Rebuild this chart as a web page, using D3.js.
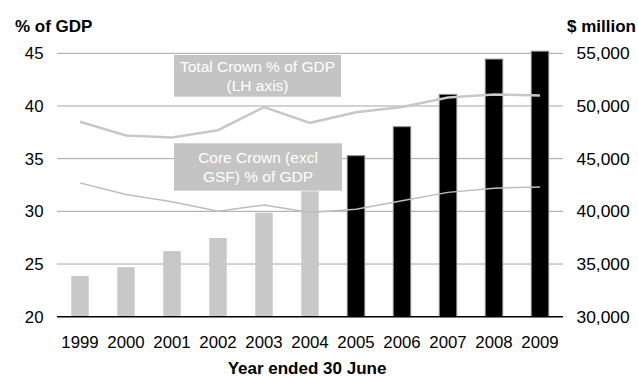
<!DOCTYPE html>
<html>
<head>
<meta charset="utf-8">
<script src="https://cdn.jsdelivr.net/npm/d3@7"></script>
<style>
  html, body { margin: 0; padding: 0; background: #fff; }
  svg { display: block; font-family: "Liberation Sans", Arial, sans-serif; }
</style>
</head>
<body>
<svg id="chart" width="638" height="377"></svg>
<script>
// Fiscal years (ended 30 June)
const years = ["1999","2000","2001","2002","2003","2004","2005","2006","2007","2008","2009"];
// Bars: $ million (right axis); first six are actuals, last five forecast
const spending = [33860, 34700, 36230, 37470, 39870, 41900, 45280, 48030, 51100, 54450, 55200];
const forecastFrom = "2005";
// Lines: % of GDP (left axis)
const totalCrownPct = [38.5, 37.2, 37.0, 37.7, 39.9, 38.4, 39.4, 39.9, 40.8, 41.1, 41.0];
const coreCrownPct = [32.7, 31.6, 30.9, 30.0, 30.6, 29.9, 30.2, 31.0, 31.8, 32.2, 32.3];
// Axis ticks
const leftTicks = [20, 25, 30, 35, 40, 45];
const rightTicks = [30000, 35000, 40000, 45000, 50000, 55000];

const svg = d3.select("#chart");
const m = { left: 57, right: 563, top: 53.3, bottom: 316.7 };
const tickSize = 16.8;

const x = d3.scaleBand().domain(years).range([m.left, m.right]).paddingInner(0.62).paddingOuter(0.31);
const yL = d3.scaleLinear().domain([20, 45]).range([m.bottom, m.top]);
const yR = d3.scaleLinear().domain([30000, 55000]).range([m.bottom, m.top]);

// Gridlines
svg.append("g")
  .selectAll("line").data(leftTicks.slice(1)).join("line")
  .attr("x1", m.left).attr("x2", m.right)
  .attr("y1", d => yL(d)).attr("y2", d => yL(d))
  .attr("stroke", "#a6a6a6").attr("stroke-width", 1);

// Bars
svg.append("g")
  .selectAll("rect").data(years).join("rect")
  .attr("x", d => x(d))
  .attr("width", x.bandwidth())
  .attr("y", (d, i) => yR(spending[i]))
  .attr("height", (d, i) => yR(30000) - yR(spending[i]))
  .attr("fill", d => d >= forecastFrom ? "#000" : "#c8c8c8")
  .attr("stroke", d => d >= forecastFrom ? "#8c8c8c" : "none")
  .attr("stroke-width", 1);

// Baseline
svg.append("line")
  .attr("x1", m.left).attr("x2", m.right)
  .attr("y1", m.bottom).attr("y2", m.bottom)
  .attr("stroke", "#000").attr("stroke-width", 1.5);

// Lines
const cx = d => x(d) + x.bandwidth() / 2;
const lineL = d3.line().x((d, i) => cx(years[i])).y(d => yL(d));
svg.append("path").datum(totalCrownPct)
  .attr("d", lineL).attr("fill", "none")
  .attr("stroke", "#c8c8c8").attr("stroke-width", 2.5);
svg.append("path").datum(coreCrownPct)
  .attr("d", lineL).attr("fill", "none")
  .attr("stroke", "#bdbdbd").attr("stroke-width", 1.5);

// Left axis labels
svg.append("g").selectAll("text").data(leftTicks).join("text")
  .attr("x", 43.5).attr("y", d => yL(d) + 6)
  .attr("text-anchor", "end").attr("font-size", tickSize).attr("fill", "#000")
  .text(d => d);

// Right axis labels
const fmt = d3.format(",");
svg.append("g").selectAll("text").data(rightTicks).join("text")
  .attr("x", 576.5).attr("y", d => yR(d) + 6)
  .attr("text-anchor", "start").attr("font-size", 17.4).attr("fill", "#000")
  .text(d => fmt(d));

// Category labels
svg.append("g").selectAll("text").data(years).join("text")
  .attr("x", d => cx(d)).attr("y", 348)
  .attr("text-anchor", "middle").attr("font-size", tickSize).attr("fill", "#000")
  .text(d => d);

// Axis titles
svg.append("text").attr("x", 15).attr("y", 31.5)
  .attr("font-size", 17).attr("font-weight", "bold").text("% of GDP");
svg.append("text").attr("x", 636).attr("y", 31.5).attr("text-anchor", "end")
  .attr("font-size", 17).attr("font-weight", "bold").text("$ million");
svg.append("text").attr("x", 307).attr("y", 373.5).attr("text-anchor", "middle")
  .attr("font-size", 17).attr("font-weight", "bold").text("Year ended 30 June");

// Series labels
const labels = [
  { lines: ["Total Crown % of GDP", "(LH axis)"], x0: 174, x1: 341, y0: 55, y1: 96.7 },
  { lines: ["Core Crown (excl", "GSF) % of GDP"], x0: 174, x1: 342, y0: 143.3, y1: 190.7 }
];
labels.forEach(l => {
  svg.append("rect").attr("x", l.x0).attr("y", l.y0)
    .attr("width", l.x1 - l.x0).attr("height", l.y1 - l.y0).attr("fill", "#c4c4c4");
  const mid = (l.x0 + l.x1) / 2, cy = (l.y0 + l.y1) / 2;
  l.lines.forEach((t, i) => {
    svg.append("text").attr("x", mid).attr("y", cy - 4 + i * 19)
      .attr("text-anchor", "middle").attr("font-size", 15.5).attr("fill", "#fff").text(t);
  });
});
</script>
</body>
</html>
